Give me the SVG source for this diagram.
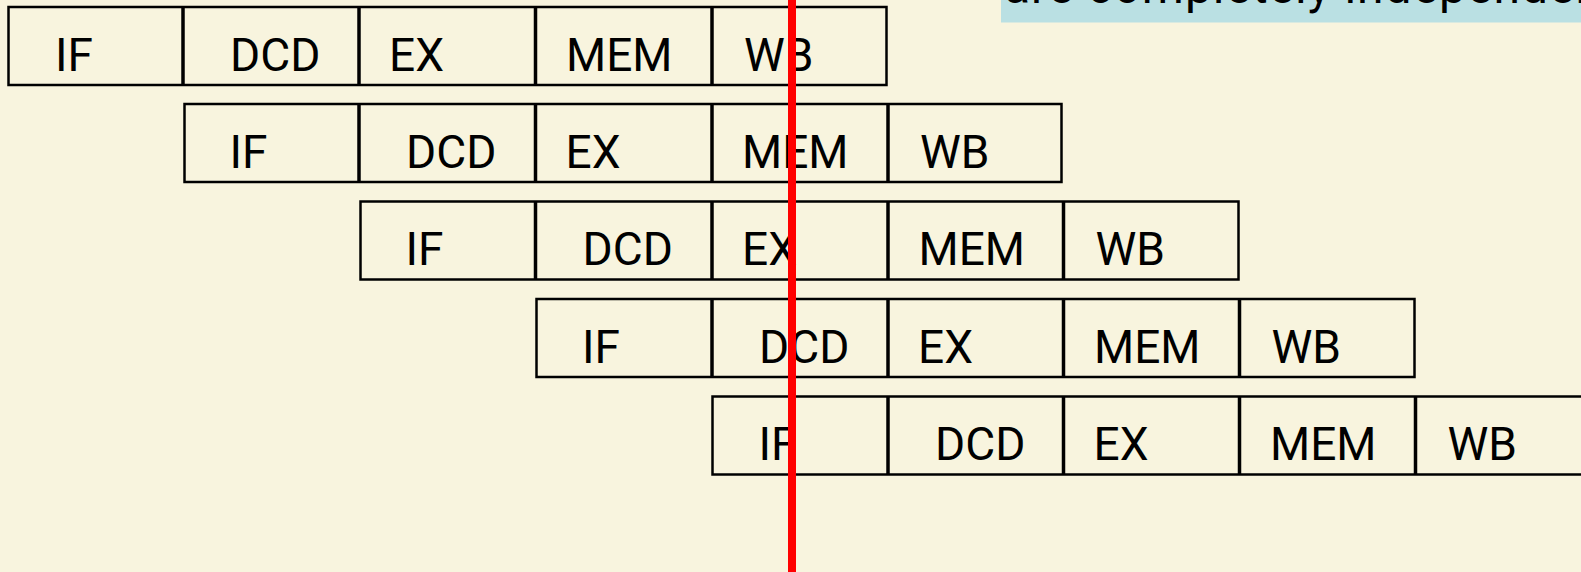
<svg xmlns="http://www.w3.org/2000/svg" width="1581" height="572" viewBox="0 0 1581 572">
<style>
.row{fill:none;stroke:#000;stroke-width:2.5}
.div{stroke:#000;stroke-width:3.5}
.lbl{font-family:Roboto,"Liberation Sans",sans-serif;font-size:46px;fill:#000}
.note{font-family:Roboto,"Liberation Sans",sans-serif;font-size:48px;fill:#000;letter-spacing:1px}
</style>
<rect x="0" y="0" width="1581" height="572" fill="#F8F4DE"/>
<g id="note">
<rect x="1001" y="0" width="580" height="22.5" fill="#BAE0E3"/>
<text class="note" x="1004" y="2.5">are completely independent</text>
</g>
<g id="instr1">
<rect class="row" x="8.5" y="7" width="878" height="78"/>
<line class="div" x1="183" y1="7" x2="183" y2="85"/>
<line class="div" x1="359" y1="7" x2="359" y2="85"/>
<line class="div" x1="535.5" y1="7" x2="535.5" y2="85"/>
<line class="div" x1="712" y1="7" x2="712" y2="85"/>
<text class="lbl" x="55" y="70.5">IF</text>
<text class="lbl" x="230" y="70.5">DCD</text>
<text class="lbl" x="389" y="70.5">EX</text>
<text class="lbl" x="566" y="70.5">MEM</text>
<text class="lbl" x="744" y="70.5">WB</text>
</g>
<g id="instr2">
<rect class="row" x="184.5" y="104" width="877" height="78"/>
<line class="div" x1="359" y1="104" x2="359" y2="182"/>
<line class="div" x1="535.5" y1="104" x2="535.5" y2="182"/>
<line class="div" x1="712" y1="104" x2="712" y2="182"/>
<line class="div" x1="888" y1="104" x2="888" y2="182"/>
<text class="lbl" x="229.5" y="167.5">IF</text>
<text class="lbl" x="406" y="167.5">DCD</text>
<text class="lbl" x="565.5" y="167.5">EX</text>
<text class="lbl" x="742" y="167.5">MEM</text>
<text class="lbl" x="920" y="167.5">WB</text>
</g>
<g id="instr3">
<rect class="row" x="360.5" y="201.5" width="878" height="78"/>
<line class="div" x1="535.5" y1="201.5" x2="535.5" y2="279.5"/>
<line class="div" x1="712" y1="201.5" x2="712" y2="279.5"/>
<line class="div" x1="888" y1="201.5" x2="888" y2="279.5"/>
<line class="div" x1="1063.5" y1="201.5" x2="1063.5" y2="279.5"/>
<text class="lbl" x="405.5" y="265">IF</text>
<text class="lbl" x="582.5" y="265">DCD</text>
<text class="lbl" x="742" y="265">EX</text>
<text class="lbl" x="918.5" y="265">MEM</text>
<text class="lbl" x="1095.5" y="265">WB</text>
</g>
<g id="instr4">
<rect class="row" x="536.5" y="299" width="878" height="78"/>
<line class="div" x1="712" y1="299" x2="712" y2="377"/>
<line class="div" x1="888" y1="299" x2="888" y2="377"/>
<line class="div" x1="1063.5" y1="299" x2="1063.5" y2="377"/>
<line class="div" x1="1239.5" y1="299" x2="1239.5" y2="377"/>
<text class="lbl" x="582" y="362.5">IF</text>
<text class="lbl" x="759" y="362.5">DCD</text>
<text class="lbl" x="918" y="362.5">EX</text>
<text class="lbl" x="1094" y="362.5">MEM</text>
<text class="lbl" x="1271.5" y="362.5">WB</text>
</g>
<g id="instr5">
<rect class="row" x="712.5" y="396.5" width="879" height="78"/>
<line class="div" x1="888" y1="396.5" x2="888" y2="474.5"/>
<line class="div" x1="1063.5" y1="396.5" x2="1063.5" y2="474.5"/>
<line class="div" x1="1239.5" y1="396.5" x2="1239.5" y2="474.5"/>
<line class="div" x1="1415.5" y1="396.5" x2="1415.5" y2="474.5"/>
<text class="lbl" x="758.5" y="460">IF</text>
<text class="lbl" x="935" y="460">DCD</text>
<text class="lbl" x="1093.5" y="460">EX</text>
<text class="lbl" x="1270" y="460">MEM</text>
<text class="lbl" x="1447.5" y="460">WB</text>
</g>
<g id="connectors">
<line x1="792" y1="0" x2="792" y2="572" stroke="#FF0000" stroke-width="8"/>
</g>
</svg>
